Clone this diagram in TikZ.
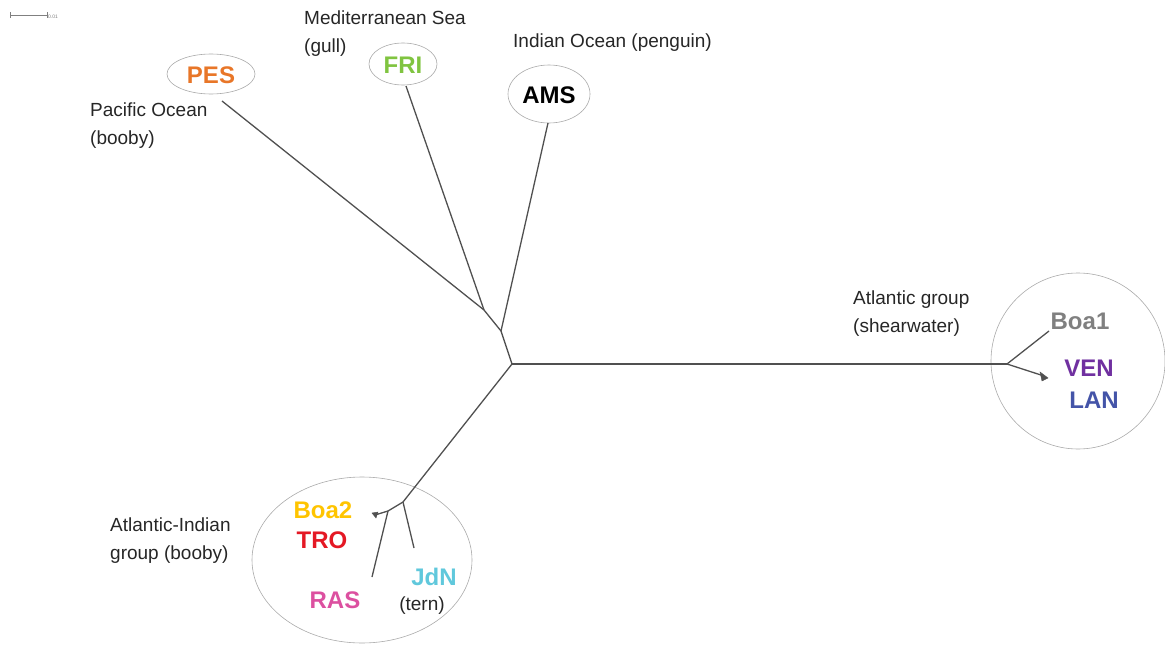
\documentclass[tikz,border=0pt]{standalone}
\usepackage{fontspec}
\setmainfont{Liberation Sans}
\definecolor{cPES}{RGB}{232,118,40}
\definecolor{cFRI}{RGB}{128,196,64}
\definecolor{cBoaA}{RGB}{128,128,128}
\definecolor{cVEN}{RGB}{112,48,160}
\definecolor{cLAN}{RGB}{68,84,168}
\definecolor{cBoaB}{RGB}{255,196,0}
\definecolor{cTRO}{RGB}{228,24,36}
\definecolor{cRAS}{RGB}{220,80,160}
\definecolor{cJdN}{RGB}{96,200,220}
\definecolor{branch}{RGB}{80,80,80}
\definecolor{ring}{RGB}{170,170,170}
\begin{document}
\begin{tikzpicture}[x=1pt,y=-1pt,
  br/.style={draw=branch,line width=1.3pt},
  ring/.style={draw=ring,line width=0.6pt},
  lab/.style={font=\fontsize{19}{27.5}\selectfont,text=black!85,align=left,inner sep=0pt},
  code/.style={font=\fontsize{24}{26}\selectfont\bfseries,inner sep=0pt},
  tip/.style={fill=branch,draw=branch,line width=0.4pt}]
\useasboundingbox (0,0) rectangle (1165,645);
% scale bar
\coordinate (sb1) at (10,15);
\coordinate (sb2) at (47,15);
\draw[draw=gray,line width=0.8pt] (sb1) -- (sb2);
\draw[draw=gray,line width=0.8pt] (10,12) -- (10,18) (47,12) -- (47,18);
\node[anchor=west,inner sep=0pt,text=gray,font=\fontsize{5}{6}\selectfont] (sbl) at (48,17) {0.01};
% rings
\draw[ring] (211,74) ellipse [x radius=44, y radius=20];
\draw[ring] (403,64) ellipse [x radius=34, y radius=21];
\draw[ring] (549,94) ellipse [x radius=41, y radius=29];
\draw[ring] (1078,361) ellipse [x radius=87, y radius=88];
\draw[ring] (362,560) ellipse [x radius=110, y radius=83];
% tree coordinates
\coordinate (j1) at (484,310);
\coordinate (j2) at (501,331);
\coordinate (j0) at (512,364);
\coordinate (jr) at (1007,364);
\coordinate (jb) at (403,502);
\coordinate (jb2) at (388,511);
\coordinate (lPES) at (222,101);
\coordinate (lFRI) at (406,86);
\coordinate (lAMS) at (548,123);
\coordinate (lBoaA) at (1049,331);
\coordinate (lVEN) at (1044,376);
\coordinate (lJdN) at (414,548);
\coordinate (lRAS) at (372,577);
\coordinate (lTRO) at (375,515);
% branches
\draw[br] (lPES) -- (j1);
\draw[br] (lFRI) -- (j1);
\draw[br] (j1) -- (j2);
\draw[br] (lAMS) -- (j2);
\draw[br] (j2) -- (j0);
\draw[br] (j0) -- (jr);
\draw[br] (jr) -- (lBoaA);
\draw[br] (jr) -- (lVEN);
\draw[tip] (1040,372) -- (1048,378) -- (1042,381) -- cycle;
\draw[br] (j0) -- (jb);
\draw[br] (jb) -- (lJdN);
\draw[br] (jb) -- (jb2);
\draw[br] (jb2) -- (lRAS);
\draw[br] (jb2) -- (lTRO);
\draw[tip] (372,513) -- (378,512) -- (376,518) -- cycle;
% codes
\node[code,text=cPES] (PES) at (211,75) {PES};
\node[code,text=cFRI] (FRI) at (403,65) {FRI};
\node[code,text=black] (AMS) at (549,95) {AMS};
\node[code,text=cBoaA] (BoaA) at (1080,321) {Boa1};
\node[code,text=cVEN] (VEN) at (1089,368) {VEN};
\node[code,text=cLAN] (LAN) at (1094,400) {LAN};
\node[code,text=cBoaB] (BoaB) at (323,510) {Boa2};
\node[code,text=cTRO] (TRO) at (322,540) {TRO};
\node[code,text=cRAS] (RAS) at (335,600) {RAS};
\node[code,text=cJdN] (JdN) at (434,577) {JdN};
% labels
\node[lab,anchor=north west] (pac) at (90,103) {Pacific Ocean\\(booby)};
\node[lab,anchor=north west] (med) at (304,11) {Mediterranean Sea\\(gull)};
\node[lab,anchor=north west] (ind) at (513,34) {Indian Ocean (penguin)};
\node[lab,anchor=north west] (atl) at (853,291) {Atlantic group\\(shearwater)};
\node[lab,anchor=north west] (ai) at (110,518) {Atlantic-Indian\\group (booby)};
\node[lab] (tern) at (422,606) {(tern)};
\end{tikzpicture}
\end{document}
